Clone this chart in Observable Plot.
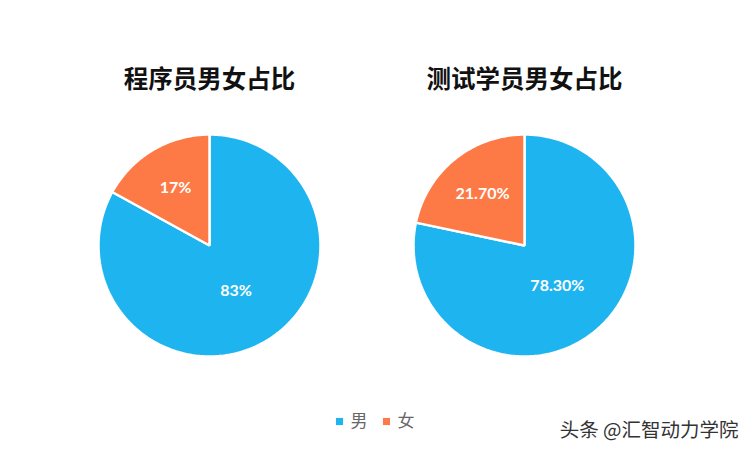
<!DOCTYPE html>
<html><head><meta charset="utf-8">
<script src="https://cdn.jsdelivr.net/npm/d3@7"></script>
<script src="https://cdn.jsdelivr.net/npm/@observablehq/plot@0.6"></script>
<style>body{margin:0;background:#fff}</style>
</head><body><div id="chart"></div>
<script>
const titles = ["程序员男女占比", "测试学员男女占比"];
const categories = ["男", "女"];
const programmerValues = [83, 17];
const testerValues = [78.3, 21.7];
const programmerLabels = ["83%", "17%"];
const testerLabels = ["78.30%", "21.70%"];
const colors = ["#1EB4EF", "#FD7A46"];
const watermark = "头条 @汇智动力学院";

const W = 752, H = 452, R = 111, CY = 245;
const pies = [
  {title: titles[0], values: programmerValues, labels: programmerLabels, cx: 209},
  {title: titles[1], values: testerValues, labels: testerLabels, cx: 524}
];

const slicePts = [];
const labelRows = [];
pies.forEach((p, pi) => {
  const total = d3.sum(p.values);
  let a0 = 0;
  p.values.forEach((v, i) => {
    const a1 = a0 + v / total * 2 * Math.PI;
    const key = pi + "-" + i;
    slicePts.push({key, cat: categories[i], x: p.cx, y: CY});
    const n = Math.max(2, Math.ceil((a1 - a0) / (Math.PI / 180)));
    for (let k = 0; k <= n; k++) {
      const a = a0 + (a1 - a0) * k / n;
      slicePts.push({key, cat: categories[i], x: p.cx + R * Math.sin(a), y: CY - R * Math.cos(a)});
    }
    slicePts.push({key, cat: categories[i], x: p.cx, y: CY});
    const mid = (a0 + a1) / 2;
    const lr = (v / total) < 0.5 ? R * 0.6 : R * 0.47;
    labelRows.push({text: p.labels[i], x: p.cx + lr * Math.sin(mid), y: CY - lr * Math.cos(mid)});
    a0 = a1;
  });
});

const legendRows = categories.map((c, i) => ({cat: c, x: 339 + i * 47, y: 421}));

const chart = Plot.plot({
  width: W, height: H,
  margin: 0,
  x: {domain: [0, W], range: [0, W], axis: null},
  y: {domain: [0, H], range: [0, H], axis: null},
  color: {domain: categories, range: colors},
  style: {background: "#fff"},
  marks: [
    Plot.line(slicePts, {x: "x", y: "y", z: "key", fill: "cat", stroke: "white", strokeWidth: 2.5, curve: "linear-closed", strokeLinejoin: "miter"}),
    Plot.text(labelRows, {x: "x", y: "y", text: "text", fill: "white", fontSize: 16, fontWeight: "bold", fontFamily: "Lato, sans-serif"}),
    Plot.text(pies, {x: "cx", y: () => 80, text: "title", fontSize: 24.5, fontWeight: "bold", fill: "#111", fontFamily: "'Noto Sans CJK SC', sans-serif"}),
    Plot.dot(legendRows, {x: "x", y: "y", symbol: "square", r: 4, fill: "cat", stroke: null}),
    Plot.text(legendRows, {x: d => d.x + 11, y: "y", text: "cat", textAnchor: "start", fontSize: 17, fill: "#666", fontFamily: "'Noto Sans CJK SC', sans-serif"}),
    Plot.text([watermark], {x: () => 738, y: () => 430, text: d => d, textAnchor: "end", fontSize: 19.5, fill: "#333", fontFamily: "'Noto Sans CJK SC', sans-serif"})
  ]
});
document.getElementById("chart").appendChild(chart);
</script>
</body></html>
